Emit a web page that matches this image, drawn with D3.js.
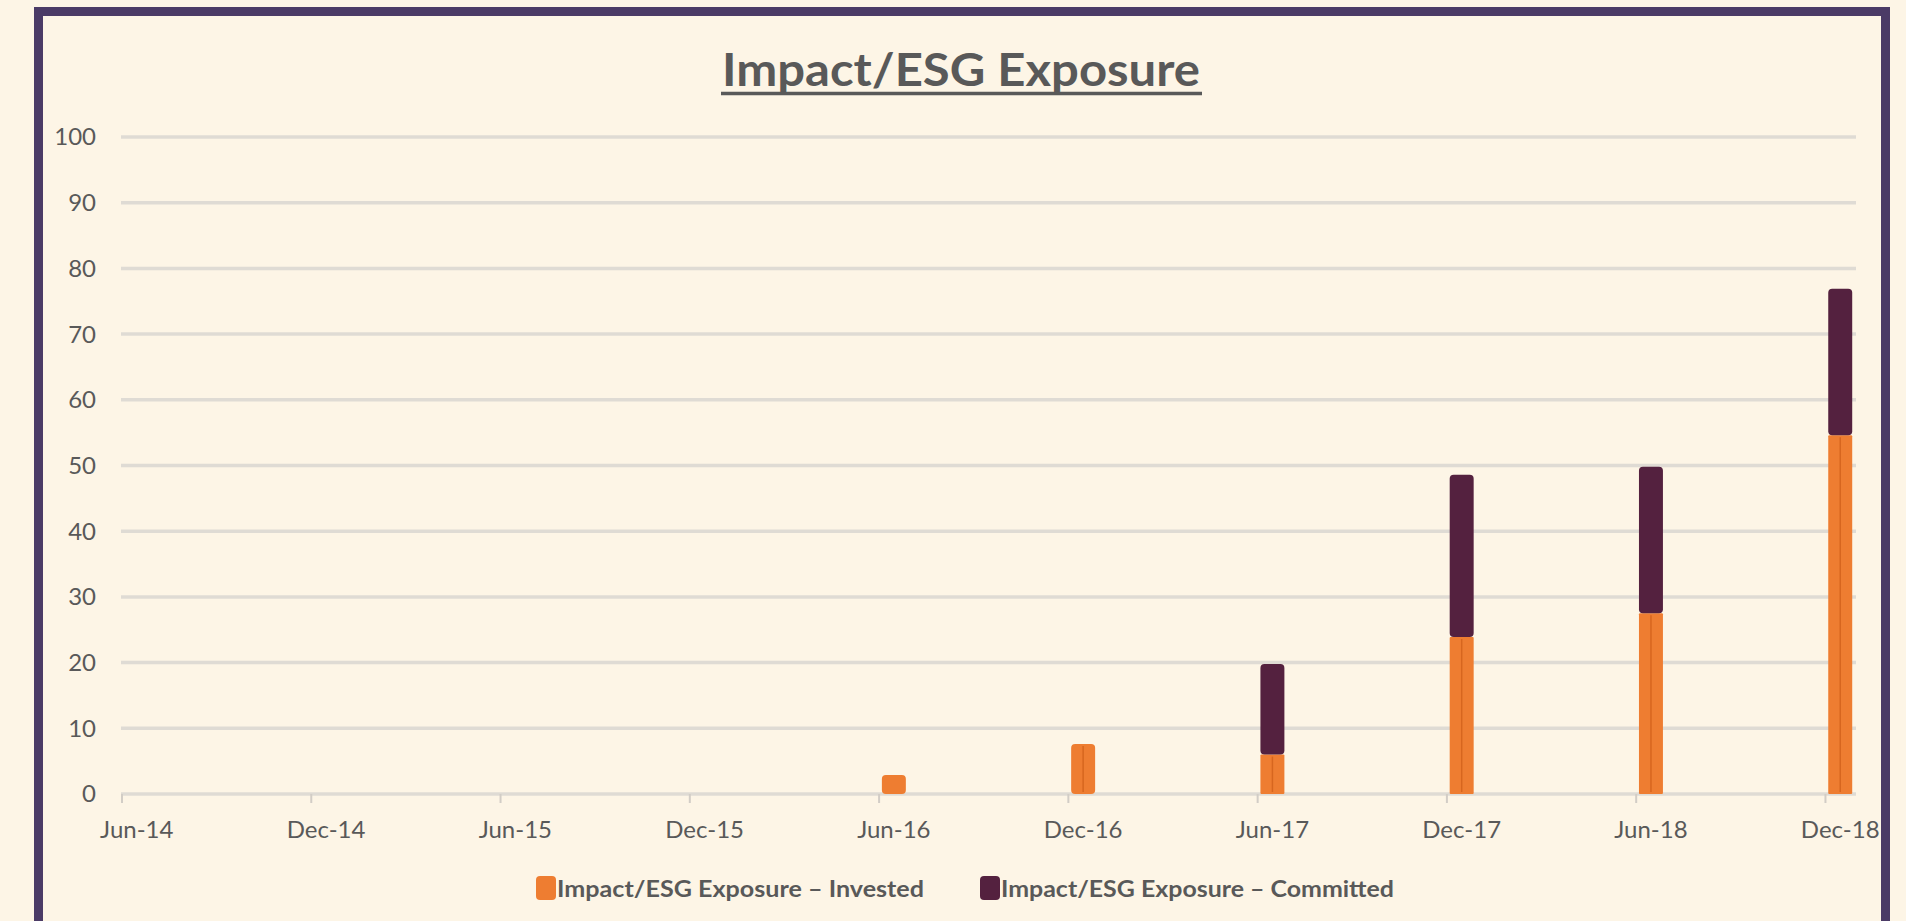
<!DOCTYPE html>
<html>
<head>
<meta charset="utf-8">
<script src="https://cdn.jsdelivr.net/npm/d3@7"></script>
<style>
  html, body { margin: 0; padding: 0; background: #fdf5e6; overflow: hidden; }
  svg text { font-family: Lato, "Open Sans", sans-serif; fill: #595959; }
</style>
</head>
<body>
<div id="esg_chart"></div>
<script>
// data
var periods = ["Jun-14", "Dec-14", "Jun-15", "Dec-15", "Jun-16", "Dec-16", "Jun-17", "Dec-17", "Jun-18", "Dec-18"];
var invested = [0, 0, 0, 0, 2.9, 7.6, 6.0, 23.9, 27.5, 54.6];
var committed = [0, 0, 0, 0, 0, 0, 13.8, 24.7, 22.3, 22.3];
var y_ticks = [0, 10, 20, 30, 40, 50, 60, 70, 80, 90, 100];
var series_names = ["Impact/ESG Exposure \u2013 Invested", "Impact/ESG Exposure \u2013 Committed"];
var series_colours = ["#ee7d31", "#54213f"];

var width = 1906,
    height = 921,
    plot_left = 121,
    plot_right = 1856,
    plot_top = 137,
    plot_bottom = 794;

var svg = d3.select("#esg_chart")
  .append("svg")
  .attr("width", width)
  .attr("height", height);

// purple frame (runs off the bottom of the picture)
svg.append("rect")
  .attr("x", 38.5)
  .attr("y", 11.5)
  .attr("width", 1847)
  .attr("height", 960)
  .attr("fill", "none")
  .attr("stroke", "#4b3b66")
  .attr("stroke-width", 9);

// title, underlined
svg.append("text")
  .attr("x", 961)
  .attr("y", 86)
  .attr("text-anchor", "middle")
  .attr("textLength", 478)
  .attr("lengthAdjust", "spacingAndGlyphs")
  .style("font-size", "46px")
  .style("font-weight", "bold")
  .text("Impact/ESG Exposure");

svg.append("line")
  .attr("x1", 721).attr("x2", 1202)
  .attr("y1", 93.5).attr("y2", 93.5)
  .attr("stroke", "#595959")
  .attr("stroke-width", 3.5);

// x axis is monthly, one slot per month; bars sit in the middle of their month
var parse_period = d3.timeParse("%b-%y");
var months = d3.timeMonth.range(parse_period(periods[0]), d3.timeMonth.offset(parse_period(periods[periods.length - 1]), 1));
var month_key = d3.timeFormat("%b-%y");

var x_scale = d3.scaleBand()
  .domain(months.map(month_key))
  .range([plot_left, plot_right])
  .padding(0);

var bar_width = x_scale.bandwidth() * 0.76;

var y_scale = d3.scaleLinear()
  .domain([0, 100])
  .range([plot_bottom, plot_top]);

// gridlines
svg.append("g")
  .selectAll("line")
  .data(y_ticks)
  .enter()
  .append("line")
  .attr("x1", plot_left)
  .attr("x2", plot_right)
  .attr("y1", function(d) { return y_scale(d); })
  .attr("y2", function(d) { return y_scale(d); })
  .attr("stroke", "#dfdbd4")
  .attr("stroke-width", 3.5);

// y labels
svg.append("g")
  .selectAll("text")
  .data(y_ticks)
  .enter()
  .append("text")
  .attr("x", 96)
  .attr("y", function(d) { return y_scale(d); })
  .attr("dy", "0.35em")
  .attr("text-anchor", "end")
  .style("font-size", "24px")
  .text(function(d) { return d; });

// tick marks at the start of each labelled month
svg.append("g")
  .selectAll("line")
  .data(periods)
  .enter()
  .append("line")
  .attr("x1", function(d) { return x_scale(d) + 1; })
  .attr("x2", function(d) { return x_scale(d) + 1; })
  .attr("y1", plot_bottom)
  .attr("y2", plot_bottom + 9)
  .attr("stroke", "#d2cdc6")
  .attr("stroke-width", 2);

// x labels
svg.append("g")
  .selectAll("text")
  .data(periods)
  .enter()
  .append("text")
  .attr("x", function(d) { return x_scale(d) + x_scale.bandwidth() / 2; })
  .attr("y", 838)
  .attr("text-anchor", "middle")
  .style("font-size", "24px")
  .text(function(d) { return d; });

// stacked bars
var bar_data = periods.map(function(p, i) {
  return { period: p, invested: invested[i], committed: committed[i] };
});

var bars = svg.append("g");

bar_data.forEach(function(d) {
  var cx = x_scale(d.period) + x_scale.bandwidth() / 2;
  var total = d.invested + d.committed;
  if (d.invested > 0) {
    var r = d.committed > 0 ? 1 : 4;
    bars.append("rect")
      .attr("x", cx - bar_width / 2)
      .attr("y", y_scale(d.invested))
      .attr("width", bar_width)
      .attr("height", y_scale(0) - y_scale(d.invested))
      .attr("rx", r)
      .attr("fill", series_colours[0]);
    if (d.invested > 5) {
      bars.append("line")
        .attr("x1", cx).attr("x2", cx)
        .attr("y1", y_scale(d.invested) + 2)
        .attr("y2", y_scale(0) - 2)
        .attr("stroke", "#d7661f")
        .attr("stroke-width", 1.5);
    }
  }
  if (d.committed > 0) {
    bars.append("rect")
      .attr("x", cx - bar_width / 2)
      .attr("y", y_scale(total))
      .attr("width", bar_width)
      .attr("height", y_scale(d.invested) - y_scale(total))
      .attr("rx", 4)
      .attr("fill", series_colours[1]);
  }
});

// legend
var legend_x = [536, 980],
    legend_text_len = [367, 393];

var legend = svg.append("g")
  .selectAll("g")
  .data(series_names)
  .enter()
  .append("g");

legend.append("rect")
  .attr("x", function(d, i) { return legend_x[i]; })
  .attr("y", 876)
  .attr("width", 20)
  .attr("height", 24)
  .attr("rx", 4)
  .attr("fill", function(d, i) { return series_colours[i]; });

legend.append("text")
  .attr("x", function(d, i) { return legend_x[i] + 21; })
  .attr("y", 897)
  .attr("textLength", function(d, i) { return legend_text_len[i]; })
  .attr("lengthAdjust", "spacingAndGlyphs")
  .style("font-size", "22px")
  .style("font-weight", "bold")
  .text(function(d) { return d; });
</script>
</body>
</html>
